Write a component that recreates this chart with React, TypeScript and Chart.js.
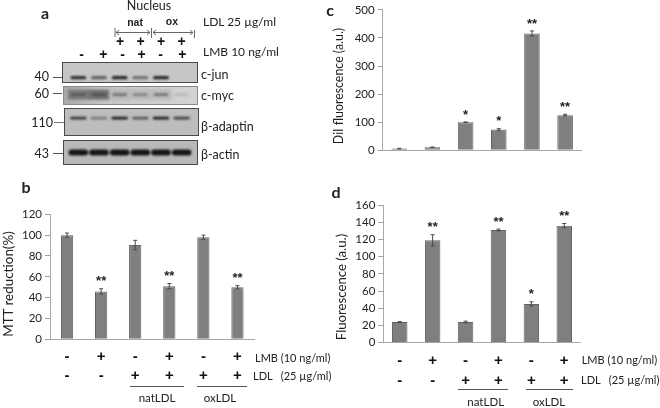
import React, { useEffect, useRef } from "react";
import { Chart, registerables } from "chart.js";

Chart.register(...registerables);

const lmbRow = ["-", "+", "-", "+", "-", "+"];
const ldlRow = ["-", "-", "+", "+", "+", "+"];
const tickCategories = lmbRow.map((v, i) => [v, ldlRow[i]]);

const mttValues = [100, 46, 90.5, 51, 98, 50];
const mttErrors = [2, 2.5, 4.5, 2.5, 2, 1.5];
const mttStars = ["", "**", "", "**", "", "**"];
const mttTicks = [0, 20, 40, 60, 80, 100, 120];

const dilValues = [6, 11, 100, 74, 416, 125];
const dilErrors = [1, 0.5, 1, 3, 9, 3];
const dilStars = ["", "", "*", "*", "**", "**"];

const fluoValues = [24, 119, 24, 131, 45, 136];
const fluoErrors = [0.5, 6.5, 1, 1, 2.5, 2.5];
const fluoStars = ["", "**", "", "**", "*", "**"];

const lanes = ["1", "2", "3", "4", "5", "6"];
const cJunBands = [0.85, 0.55, 0.9, 0.45, 0.9, 0];
const cMycBands = [0.6, 0.65, 0.45, 0.35, 0.45, 0.03];
const cMycSmear = [0.4, 0.45, 0.03, 0.02, 0.02, 0];
const adaptinBands = [0.8, 0.4, 0.95, 0.6, 0.95, 0.75];
const actinBands = [1, 1, 1, 1, 1, 1];

const FONT = "Lato";
const TEXT = "#222";

const errorStarPlugin = {
  id: "errorStars",
  afterDatasetsDraw(chart: any, _a: any, opts: any) {
    const { ctx, scales } = chart;
    const meta = chart.getDatasetMeta(0);
    const values: number[] = chart.data.datasets[0].data;
    ctx.save();
    meta.data.forEach((bar: any, i: number) => {
      const top = scales.y.getPixelForValue(values[i] + opts.errors[i]);
      const bottom = scales.y.getPixelForValue(values[i] - opts.errors[i]);
      ctx.strokeStyle = "#4a4a4a";
      ctx.lineWidth = 1;
      ctx.beginPath();
      ctx.moveTo(bar.x, top);
      ctx.lineTo(bar.x, bottom);
      ctx.moveTo(bar.x - 2, top);
      ctx.lineTo(bar.x + 2, top);
      ctx.moveTo(bar.x - 2, bottom);
      ctx.lineTo(bar.x + 2, bottom);
      ctx.stroke();
      if (opts.stars[i]) {
        ctx.fillStyle = "#222";
        ctx.font = "bold 13px 'Liberation Sans'";
        ctx.textAlign = "center";
        ctx.textBaseline = "middle";
        ctx.fillText(opts.stars[i], bar.x, top - 7);
      }
    });
    ctx.restore();
  },
};

type PanelProps = {
  values: number[];
  errors: number[];
  stars: string[];
  max: number;
  step: number;
  left: number;
  right: number;
  top: number;
  bottom: number;
  barPct: number;
  showCategories: boolean;
  rowHeight?: number;
};

function BarPanel(p: PanelProps) {
  const ref = useRef<HTMLCanvasElement>(null);
  useEffect(() => {
    const W = 40;
    const H = 50;
    const chart = new Chart(ref.current!, {
      type: "bar",
      data: {
        labels: tickCategories as any,
        datasets: [
          {
            data: p.values,
            backgroundColor: "#7f7f7f",
            borderColor: "#636363",
            borderWidth: 1,
            barPercentage: p.barPct,
            categoryPercentage: 1,
          },
        ],
      },
      plugins: [errorStarPlugin as any],
      options: {
        animation: false,
        responsive: false,
        layout: {
          padding: { left: p.left - W, right: 660 - p.right, top: p.top, bottom: 408 - p.bottom - H },
        },
        plugins: {
          legend: { display: false },
          tooltip: { enabled: false },
          errorStars: { errors: p.errors, stars: p.stars },
        } as any,
        scales: {
          x: {
            afterFit: (s: any) => { s.height = H; },
            grid: { display: false },
            border: { color: "#a8a8a8", width: 1 },
            ticks: {
              display: p.showCategories,
              autoSkip: false,
              maxRotation: 0,
              color: "#111",
              padding: 0,
              font: { family: "'Liberation Sans'", size: 15, weight: "bold", lineHeight: p.rowHeight ?? 1.25 },
            },
          },
          y: {
            min: 0,
            max: p.max,
            afterFit: (s: any) => { s.width = W; },
            grid: { drawOnChartArea: false, drawTicks: true, tickLength: 5, color: "#a0a0a0" },
            border: { color: "#a8a8a8", width: 1 },
            ticks: { stepSize: p.step, color: TEXT, padding: 3, font: { family: FONT, size: 11.5 } },
          },
        },
      } as any,
    });
    return () => chart.destroy();
  }, []);
  return <canvas ref={ref} width={660} height={408} style={{ position: "absolute", left: 0, top: 0 }} />;
}

function shade(v: number) {
  const g = Math.round(190 - 170 * v);
  return `rgb(${g},${g},${g})`;
}

type BlotProps = {
  bands: number[];
  smear?: number[];
  x: number;
  y: number;
  w: number;
  h: number;
  bg: string;
  center: number;
  half: number;
  pct: number;
  border?: string;
};

function Blot(p: BlotProps) {
  const ref = useRef<HTMLCanvasElement>(null);
  useEffect(() => {
    const datasets: any[] = [];
    datasets.push({
      data: p.bands.map((v) => (v > 0 ? [p.center - p.half, p.center + p.half] : null)),
      backgroundColor: p.bands.map(shade),
      barPercentage: p.pct,
      categoryPercentage: 1,
      borderRadius: 3,
      borderSkipped: false,
      grouped: false,
      order: 0,
    });
    if (p.smear) {
      datasets.push({
        data: p.smear.map((v) => (v > 0 ? [p.center - p.half * 3.5, p.center + p.half * 3.5] : null)),
        backgroundColor: p.smear.map(shade),
        barPercentage: 1,
        categoryPercentage: 1,
        grouped: false,
        order: 1,
      });
    }
    const chart = new Chart(ref.current!, {
      type: "bar",
      data: { labels: lanes, datasets },
      options: {
        animation: false,
        responsive: false,
        layout: { padding: { left: 68 - p.x, right: p.x + p.w - 192, top: 0, bottom: 0 } },
        plugins: { legend: { display: false }, tooltip: { enabled: false } },
        scales: {
          x: { display: false },
          y: { display: false, min: 0, max: 1 },
        },
      } as any,
    });
    return () => chart.destroy();
  }, []);
  return (
    <div
      style={{
        position: "absolute",
        left: p.x,
        top: p.y,
        width: p.w,
        height: p.h,
        background: p.bg,
        outline: `1px solid ${p.border ?? "#4a4a4a"}`,
      }}
    >
      <canvas ref={ref} width={p.w} height={p.h} style={{ display: "block", filter: "blur(0.8px)" }} />
    </div>
  );
}

function T(props: {
  x: number;
  y: number;
  s: number;
  children: React.ReactNode;
  bold?: boolean;
  align?: "l" | "c" | "r";
  rot?: boolean;
  font?: string;
  color?: string;
}) {
  const a = props.align ?? "l";
  const tx = a === "l" ? "0" : a === "c" ? "-50%" : "-100%";
  return (
    <div
      style={{
        position: "absolute",
        left: props.x,
        top: props.y,
        whiteSpace: "pre",
        lineHeight: 1,
        fontFamily: props.font ?? FONT,
        fontSize: props.s,
        fontWeight: props.bold ? 700 : 400,
        color: props.color ?? TEXT,
        transform: props.rot ? "translate(-50%,-50%) rotate(-90deg)" : `translate(${tx},-50%)`,
      }}
    >
      {props.children}
    </div>
  );
}

function HLine({ x1, x2, y, c = "#555" }: { x1: number; x2: number; y: number; c?: string }) {
  return <div style={{ position: "absolute", left: x1, top: y, width: x2 - x1, height: 1, background: c }} />;
}

const SANS = "'Liberation Sans'";

export default function App() {
  document.body.style.margin = "0";
  document.body.style.background = "#fff";
  return (
    <div style={{ position: "absolute", left: 0, top: 0, width: 660, height: 408, overflow: "hidden", filter: "blur(0.3px)" }}>
      <BarPanel values={mttValues} errors={mttErrors} stars={mttStars} max={mttTicks[mttTicks.length - 1]} step={20}
        left={50} right={254.5} top={214.3} bottom={339.3} barPct={0.36} showCategories />
      <BarPanel values={dilValues} errors={dilErrors} stars={dilStars} max={500} step={100}
        left={382.7} right={581.7} top={9.3} bottom={150.3} barPct={0.47} showCategories={false} />
      <BarPanel values={fluoValues} errors={fluoErrors} stars={fluoStars} max={160} step={20}
        left={383.3} right={580.7} top={205} bottom={342.7} barPct={0.47} showCategories rowHeight={1.33} />

      <Blot bands={cJunBands} x={63} y={63} w={134} h={19} bg="#c6c6c6" center={0.23} half={0.08} pct={0.76} />
      <Blot bands={cMycBands} smear={cMycSmear} x={64} y={87} w={133} h={17}
        bg="linear-gradient(90deg,#a8a8a8,#c4c4c4 30%,#d4d4d4 100%)" center={0.55} half={0.08} pct={0.7} border="#8a8a8a" />
      <Blot bands={adaptinBands} x={65} y={109} w={133} h={26} bg="#bdbdbd" center={0.65} half={0.055} pct={0.8} />
      <Blot bands={actinBands} x={64} y={141} w={133} h={23} bg="#b8b8b8" center={0.5} half={0.13} pct={0.95} />

      <T x={45} y={13} s={16} bold align="c">a</T>
      <T x={149} y={6} s={12.5} align="c">Nucleus</T>
      <T x={135} y={22} s={10.5} bold align="c" font={SANS}>nat</T>
      <T x={172} y={21} s={10.5} bold align="c" font={SANS}>ox</T>
      <T x={203} y={22} s={12}>LDL 25 µg/ml</T>
      <T x={203} y={52} s={12}>LMB 10 ng/ml</T>
      <svg style={{ position: "absolute", left: 0, top: 0 }} width={660} height={70}>
        <g stroke="#666" strokeWidth={1} fill="none">
          <path d="M115 28V37M151.5 28V38M194.5 30V38" />
          <path d="M116 32.5H150M119 30L116 32.5L119 35M147 30L150 32.5L147 35" />
          <path d="M153 32.5H193M156 30L153 32.5L156 35M190 30L193 32.5L190 35" />
        </g>
      </svg>
      {["+", "+", "+", "+"].map((v, i) => (
        <T key={i} x={120 + i * 20.5} y={41} s={14} bold align="c" font={SANS} color="#111">{v}</T>
      ))}
      {lmbRow.map((v, i) => (
        <T key={i} x={[81.7, 103.3, 122.7, 141.7, 160.7, 182.3][i]} y={54} s={14} bold align="c" font={SANS} color="#111">{v}</T>
      ))}
      <T x={49} y={77} s={12.5} align="r">40</T>
      <T x={49} y={94} s={12.5} align="r">60</T>
      <T x={53} y={122.5} s={12.5} align="r">110</T>
      <T x={49} y={154} s={12.5} align="r">43</T>
      <HLine x1={53} x2={62} y={77} />
      <HLine x1={53} x2={62} y={93} />
      <HLine x1={54} x2={64} y={122} c="#777" />
      <HLine x1={53} x2={63} y={153} />
      <T x={201} y={75} s={12.5}>c-jun</T>
      <T x={201} y={96} s={12.5}>c-myc</T>
      <T x={201} y={127} s={12.5}>β-adaptin</T>
      <T x={201} y={154.5} s={12.5}>β-actin</T>

      <T x={26} y={187} s={16} bold align="c">b</T>
      <T x={8.5} y={284} s={13.4} rot>MTT reduction(%)</T>
      <T x={255} y={357} s={11}>LMB (10 ng/ml)</T>
      <T x={253} y={375} s={11}>LDL   (25 µg/ml)</T>
      <HLine x1={130} x2={183.5} y={386} />
      <HLine x1={196.5} x2={246.5} y={386} />
      <T x={157} y={398} s={11.5} align="c">natLDL</T>
      <T x={220} y={398} s={11.5} align="c">oxLDL</T>

      <T x={330} y={10} s={16} bold align="c">c</T>
      <T x={339} y={86} s={12.4} rot>DiI fluorescence (a.u.)</T>

      <T x={336} y={192} s={16} bold align="c">d</T>
      <T x={341.5} y={287} s={13.2} rot>Fluorescence (a.u.)</T>
      <T x={581.7} y={359} s={11}>LMB (10 ng/ml)</T>
      <T x={581} y={379} s={11}>LDL   (25 µg/ml)</T>
      <HLine x1={458.3} x2={507.7} y={389} />
      <HLine x1={526} x2={572.7} y={389} />
      <T x={485.7} y={402} s={11.5} align="c">natLDL</T>
      <T x={549} y={402} s={11.5} align="c">oxLDL</T>
    </div>
  );
}
